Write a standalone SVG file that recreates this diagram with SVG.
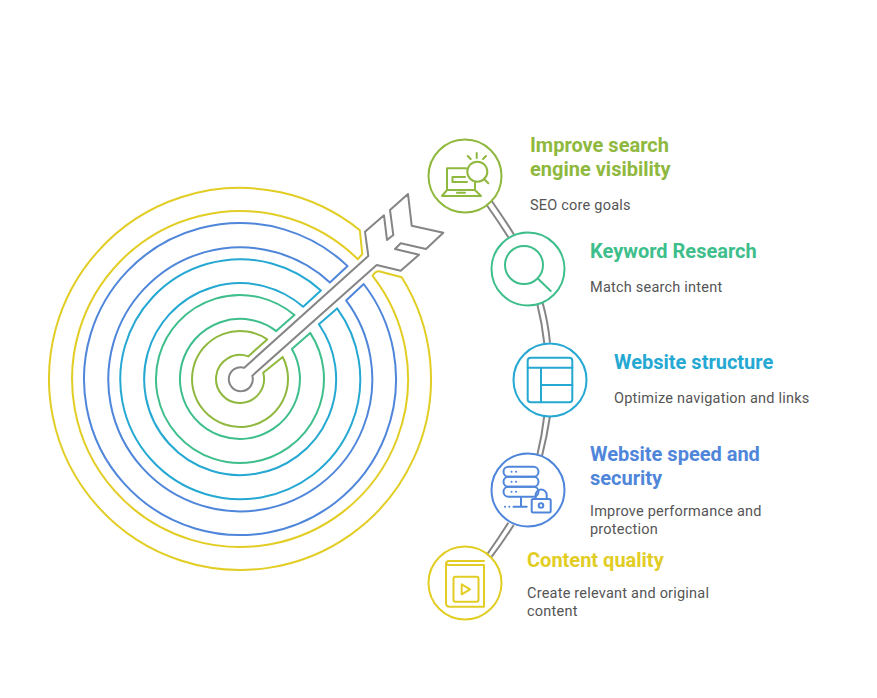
<svg xmlns="http://www.w3.org/2000/svg" width="877" height="698" viewBox="0 0 877 698">
<style>
.s{fill:none;stroke-width:2;stroke-linejoin:round;stroke-linecap:round}
.ic{fill:none;stroke-width:2;stroke-linejoin:round;stroke-linecap:round}
.c{fill:none;stroke:#858585;stroke-width:2}
.nc{fill:#fff;stroke-width:2}
.t{font-family:Roboto,"Liberation Sans",sans-serif;font-size:20px;font-weight:700}
.d{font-family:Roboto,"Liberation Sans",sans-serif;font-size:14.5px;fill:#555;letter-spacing:.22px}
.lime{stroke:#8FB83E}.green{stroke:#3EBE8B}.teal{stroke:#25A8D2}.blue{stroke:#4F86DA}.yellow{stroke:#E2CD24}
.flime{fill:#8FB83E}.fgreen{fill:#3EBE8B}.fteal{fill:#25A8D2}.fblue{fill:#4F86DA}.fyellow{fill:#E2CD24}
</style>
<rect width="877" height="698" fill="#fff"/>
<g id="target">
<path class="s yellow" d="M359.800 230.200A191 191 0 1 0 401.700 277.300L379 271.200Q375.500 271 372.600 275.800A168 168 0 1 1 357.800 259.200L362.300 254Z"/>
<path class="s blue" d="M347.600 266.100A156 156 0 1 0 363.700 284L346.100 300.400A132 132 0 1 1 329.900 282.400Z"/>
<path class="s teal" d="M320.900 290.400A120 120 0 1 0 337.100 308.400L318.900 324.300A96 96 0 1 1 303.200 306.800Z"/>
<path class="s green" d="M294.400 315A84 84 0 1 0 310.200 332.900L291.900 348.900A60 60 0 1 1 276.200 331.100Z"/>
<path class="s lime" d="M267.200 339.400A48 48 0 1 0 282.700 357L263.200 372.700A24 24 0 1 1 248.200 356.400Z"/>
</g>
<g id="arrow">
<path class="s" stroke="#858585" d="M244.300 367.700L368.300 256L365 231.700L384 215.300L387 240L393.300 235L390 210L408 194L411.700 225.700L443.300 232.700L426 249L400.700 243.300L395 249L419 254.700L400.700 270.700L376.700 265L252.300 375.700A12 12 0 1 1 244.300 367.700Z"/>
</g>
<g id="connectors">
<path class="c" d="M486.700 205Q498 221 508.300 237.300"/>
<path class="c" d="M491.700 201Q503 217 514.300 235"/>
<path class="c" d="M537.300 304Q542 323 544.300 343.300"/>
<path class="c" d="M542.700 303Q548 322 550 342.700"/>
<path class="c" d="M544.300 415.700Q542 436 537.300 455"/>
<path class="c" d="M550 416Q547 436 542 456"/>
<path class="c" d="M508.300 522.700Q498 539 486.700 555"/>
<path class="c" d="M513.700 525Q503 542 491 557.700"/>
</g>
<g id="node-visibility">
<circle class="nc lime" cx="465" cy="176" r="36.500"/>
<path class="ic lime" d="M466 168.300H447V190M447 190L442 196H481L475 190H447M457 192.700H465M452.500 177V182H467M452.500 177H465M475 183V190M477.300 161.700A10 10 0 1 1 477.300 181.700A10 10 0 1 1 477.300 161.700M483.800 178.800L488.300 183.300M476.700 153V158M467.700 156L470.700 159M486 156L483 159"/>
<text class="t flime" x="530" y="152">Improve search</text>
<text class="t flime" x="530" y="176">engine visibility</text>
<text class="d" x="530" y="210">SEO core goals</text>
</g>
<g id="node-keyword">
<circle class="nc green" cx="528" cy="269" r="36.500"/>
<circle class="ic green" cx="524" cy="265" r="19"/>
<path class="ic green" d="M538.300 279L550.700 291"/>
<text class="t fgreen" x="590" y="258">Keyword Research</text>
<text class="d" x="590" y="292">Match search intent</text>
</g>
<g id="node-structure">
<circle class="nc teal" cx="550" cy="380" r="36.500"/>
<rect class="ic teal" x="527.700" y="357.700" width="44.600" height="44.600" rx="3"/>
<path class="ic teal" d="M527.700 367.700H572.300M541 367.700V402.300M541 385H572.300"/>
<text class="t fteal" x="614" y="369">Website structure</text>
<text class="d" x="614" y="403">Optimize navigation and links</text>
</g>
<g id="node-speed">
<circle class="nc blue" cx="528" cy="490" r="36.500"/>
<rect class="ic blue" x="503.500" y="466.700" width="35" height="10" rx="5"/>
<rect class="ic blue" x="503.500" y="476.700" width="35" height="10" rx="5"/>
<rect class="ic blue" x="503.500" y="486.700" width="35" height="10" rx="5"/>
<path class="ic blue" d="M511.500 471.700H511.600M516 471.700H516.100M511.500 481.700H511.600M516 481.700H516.100M511.500 491.700H511.600M516 491.700H516.100M521 497V506.700M513.500 506.700H526.700M505 506.700H505.100M509.300 506.700H509.400"/>
<rect class="ic blue" x="531.700" y="499" width="19" height="13.500" rx="1.500" fill="#fff"/>
<path class="ic blue" d="M535.700 499V495A5.500 5.500 0 0 1 546.700 495V499"/>
<circle class="ic blue" cx="541" cy="505.500" r="2.300"/>
<text class="t fblue" x="590" y="461">Website speed and</text>
<text class="t fblue" x="590" y="485">security</text>
<text class="d" x="590" y="516">Improve performance and</text>
<text class="d" x="590" y="534">protection</text>
</g>
<g id="node-content">
<circle class="nc yellow" cx="465" cy="583" r="36.500"/>
<path class="ic yellow" d="M484 561H449Q446 561 446 564.500V603Q446 606.700 449.500 606.700H484V565H449.500Q446 565 446 563"/>
<rect class="ic yellow" x="453.500" y="576.700" width="25" height="25" rx="2"/>
<path class="ic yellow" d="M461.700 584.300L470 589.300L461.700 594.300Z"/>
<text class="t fyellow" x="527" y="567">Content quality</text>
<text class="d" x="527" y="598">Create relevant and original</text>
<text class="d" x="527" y="616">content</text>
</g>
</svg>
